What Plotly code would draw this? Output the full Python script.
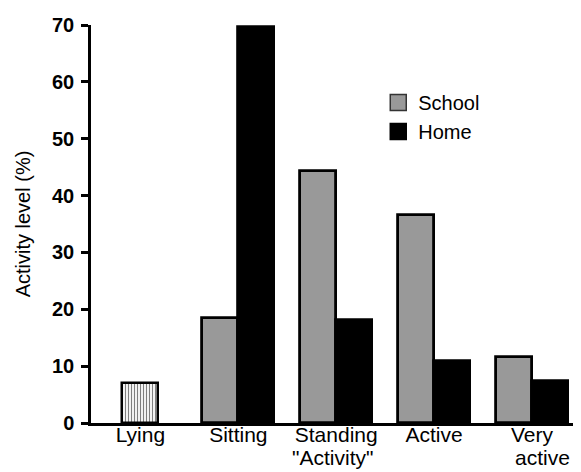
import plotly.graph_objects as go

categories = ["Lying", "Sitting", "Standing Activity", "Active", "Very active"]
label_line1 = ["Lying", "Sitting", "Standing", "Active", "Very"]
label_line2 = ["", "", '"Activity"', "", "active"]
lying = [7.0, None, None, None, None]
school = [None, 18.5, 44.3, 36.6, 11.6]
home = [None, 69.6, 18.2, 10.9, 7.3]
y_ticks = [0, 10, 20, 30, 40, 50, 60, 70]

GRAY = "#999999"
FONT = "Liberation Sans, Arial, sans-serif"
W = 0.368

fig = go.Figure()
fig.add_trace(go.Bar(
    x=categories, y=lying, width=W, offset=-W / 2, showlegend=False,
    marker=dict(color="white", line=dict(color="black", width=2.5),
                pattern=dict(shape="|", fgcolor="black", bgcolor="white", size=3, solidity=0.4)),
))
fig.add_trace(go.Bar(
    x=categories, y=school, width=W, offset=-W, showlegend=False,
    marker=dict(color=GRAY, line=dict(color="black", width=2.8)),
))
fig.add_trace(go.Bar(
    x=categories, y=home, width=W, offset=0, showlegend=False,
    marker=dict(color="black", line=dict(color="black", width=2.8)),
))
# legend entries
fig.add_trace(go.Scatter(x=[None], y=[None], mode="markers", name="School",
                         marker=dict(symbol="square", size=16, color=GRAY,
                                     line=dict(color="#333333", width=1.5))))
fig.add_trace(go.Scatter(x=[None], y=[None], mode="markers", name="Home",
                         marker=dict(symbol="square", size=16, color="black",
                                     line=dict(color="black", width=1.5))))

# second lines of the category labels
shifts = [0, 0, -4, 0, 10]
for cat, txt, dx in zip(categories, label_line2, shifts):
    if txt:
        fig.add_annotation(x=cat, xref="x", y=-0.086, yref="paper",
                           text=txt, showarrow=False, xshift=dx,
                           yanchor="middle", font=dict(size=21), borderpad=0)

fig.update_layout(
    width=581, height=472,
    margin=dict(l=83, r=1, t=17, b=57),
    paper_bgcolor="white", plot_bgcolor="white",
    font=dict(family=FONT, size=21, color="black"),
    bargap=0, barmode="overlay",
    legend=dict(x=0.578, y=0.854, xanchor="left", yanchor="top",
                font=dict(size=20), bgcolor="rgba(0,0,0,0)",
                itemsizing="trace", tracegroupgap=0),
    showlegend=True,
)
fig.update_xaxes(
    type="category", range=[-0.505, 4.572],
    tickvals=categories, ticktext=label_line1,
    showline=True, linecolor="black", linewidth=2.5,
    ticks="", showgrid=False, zeroline=False,
    tickfont=dict(size=21), ticklabelstandoff=-9,
)
fig.update_yaxes(
    range=[0, 70], tickvals=y_ticks,
    showline=True, linecolor="black", linewidth=2.5,
    ticks="outside", ticklen=7, tickwidth=2.5, tickcolor="black",
    showgrid=False, zeroline=False,
    tickfont=dict(size=20, weight="bold"), ticklabelstandoff=3,
    title=dict(text="Activity level (%)", font=dict(size=20), standoff=17),
)

fig.write_html("out.html")
